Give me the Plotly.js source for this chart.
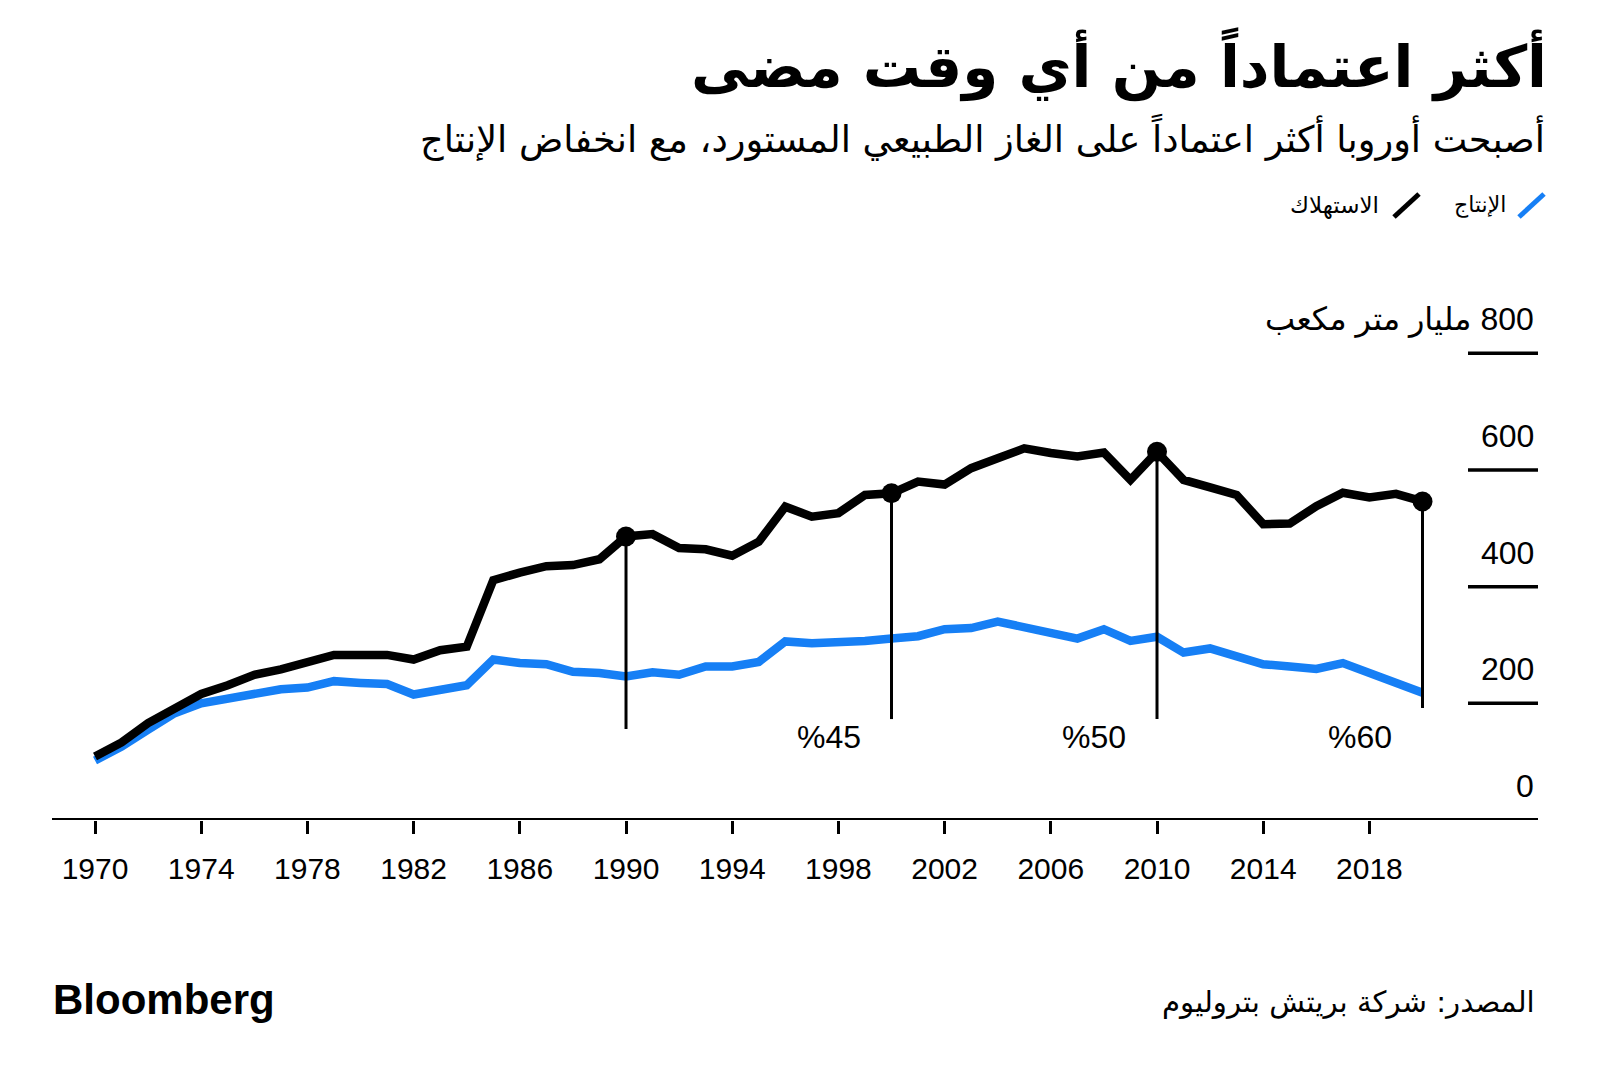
<!DOCTYPE html>
<html>
<head>
<meta charset="utf-8">
<script src="https://cdn.plot.ly/plotly-3.0.1.min.js"></script>
<style>html,body{margin:0;padding:0;background:#fff;}#chart{width:1600px;height:1078px;}</style>
</head>
<body>
<div id="chart"></div>
<script>
// ---- Data (billion cubic metres, Europe) ----
const years = [1970,1971,1972,1973,1974,1975,1976,1977,1978,1979,1980,1981,1982,1983,1984,1985,1986,1987,1988,1989,1990,1991,1992,1993,1994,1995,1996,1997,1998,1999,2000,2001,2002,2003,2004,2005,2006,2007,2008,2009,2010,2011,2012,2013,2014,2015,2016,2017,2018,2019,2020];
const consumption = [109,133,166,191,216,231,249,258,270,283,283,283,275,291,297,411,424,435,437,447,486,490,466,464,453,477,537,520,526,557,560,580,575,603,620,637,629,623,630,583,631,583,570,557,507,508,538,561,553,559,546];
const production = [102,126,155,183,200,207,217,224,227,238,235,233,215,223,231,275,269,267,254,252,246,253,249,263,263,271,306,303,304,307,311,315,327,329,340,331,323,311,327,307,314,287,294,280,267,263,259,269,251,234,218];
const markYears = [1990, 2000, 2010, 2020];
const markLabels = ["", "%45", "%50", "%60"];
const xTickYears = [1970,1974,1978,1982,1986,1990,1994,1998,2002,2006,2010,2014,2018];
const yTickValues = [0, 200, 400, 600, 800];
const yTickLabels = ["0", "200", "400", "600", "\u200F800 مليار متر مكعب"];
const legendNames = ["الإنتاج", "الاستهلاك"];
const titleText = "أكثر اعتماداً من أي وقت مضى";
const subtitleText = "أصبحت أوروبا أكثر اعتماداً على الغاز الطبيعي المستورد، مع انخفاض الإنتاج";
const sourceText = "المصدر: شركة بريتش بتروليوم";

// ---- Styling / layout ----
const BLUE = "#167ff5";
const BLACK = "#000000";
const W = 1600, H = 1078;
const M = {l: 52, r: 62, t: 320, b: 258};
const plotW = W - M.l - M.r, plotH = H - M.t - M.b;
const px = x => (x - M.l) / plotW;          // pixel x -> paper
const py = y => (H - M.b - y) / plotH;      // pixel y -> paper
const stemBottom = [156, 173, 173, 192];    // stem ends (data units)
const NUMFONT = "Liberation Sans, Arial, sans-serif";
const ARFONT = "DejaVu Sans, sans-serif";

const markY = markYears.map(y => consumption[years.indexOf(y)]);

const traces = [
  {x: years, y: production, type: "scatter", mode: "lines", name: legendNames[0],
   line: {color: BLUE, width: 8.5}, hoverinfo: "x+y"},
  {x: years, y: consumption, type: "scatter", mode: "lines", name: legendNames[1],
   line: {color: BLACK, width: 8.5}, hoverinfo: "x+y"},
  {x: markYears, y: markY, type: "scatter", mode: "markers", showlegend: false,
   marker: {color: BLACK, size: 20}, hoverinfo: "x+y"}
];

const shapes = [];
const annotations = [];

// x-axis baseline at zero
shapes.push({type: "line", xref: "paper", yref: "y", x0: 0, x1: 1, y0: 0, y1: 0,
  line: {color: BLACK, width: 4}, layer: "above"});

// stems
markYears.forEach((yr, i) => {
  shapes.push({type: "line", xref: "x", yref: "y", x0: yr, x1: yr, y0: markY[i], y1: stemBottom[i],
    line: {color: BLACK, width: 3}, layer: "above"});
  if (markLabels[i]) {
    annotations.push({xref: "x", yref: "y", x: yr, y: 142, xanchor: "right", yanchor: "middle",
      xshift: -29, text: markLabels[i], showarrow: false,
      font: {family: NUMFONT, size: 32, color: BLACK}});
  }
});

// y grid stubs & labels
yTickValues.forEach((v, i) => {
  if (v > 0) {
    shapes.push({type: "line", xref: "paper", yref: "y", x0: px(1468), x1: 1, y0: v, y1: v,
      line: {color: BLACK, width: 3.5}});
  }
  annotations.push({xref: "paper", yref: "y", x: 1, y: v, xanchor: "right", yanchor: "middle",
    xshift: -2, yshift: 34, text: yTickLabels[i], showarrow: false,
    font: {family: v === 800 ? "Liberation Sans, DejaVu Sans, sans-serif" : NUMFONT, size: 32, color: BLACK}});
});

// legend
shapes.push({type: "line", xref: "paper", yref: "paper", x0: px(1519), x1: px(1544), y0: py(217), y1: py(194),
  line: {color: BLUE, width: 5}});
shapes.push({type: "line", xref: "paper", yref: "paper", x0: px(1394), x1: px(1419), y0: py(217), y1: py(194),
  line: {color: BLACK, width: 5}});
annotations.push({xref: "paper", yref: "paper", x: px(1508), y: py(205), xanchor: "right", yanchor: "middle",
  text: legendNames[0], showarrow: false, font: {family: ARFONT, size: 22, color: BLACK}});
annotations.push({xref: "paper", yref: "paper", x: px(1381), y: py(205), xanchor: "right", yanchor: "middle",
  text: legendNames[1], showarrow: false, font: {family: ARFONT, size: 23, color: BLACK}});

// subtitle
annotations.push({xref: "paper", yref: "paper", x: px(1547), y: py(137), xanchor: "right", yanchor: "middle",
  text: subtitleText, showarrow: false, font: {family: ARFONT, size: 36.7, color: BLACK}});

// footer
annotations.push({xref: "paper", yref: "paper", x: px(51), y: py(999), xanchor: "left", yanchor: "middle",
  text: "<b>Bloomberg</b>", showarrow: false, font: {family: NUMFONT, size: 42, color: BLACK}});
annotations.push({xref: "paper", yref: "paper", x: px(1537), y: py(1002), xanchor: "right", yanchor: "middle",
  text: sourceText, showarrow: false, font: {family: ARFONT, size: 29.2, color: BLACK}});

const layout = {
  width: W, height: H, autosize: false,
  margin: M,
  paper_bgcolor: "#ffffff", plot_bgcolor: "#ffffff",
  showlegend: false,
  title: {text: titleText, xref: "container", yref: "container", x: 1547 / W, xanchor: "right",
    y: 1 - 67 / H, yanchor: "middle",
    font: {family: ARFONT, size: 58, weight: 700, color: BLACK}},
  xaxis: {range: [1968.38, 2024.35], tickvals: xTickYears, ticktext: xTickYears.map(String),
    ticks: "outside", ticklen: 13, tickwidth: 3, tickcolor: BLACK,
    showline: false, showgrid: false, zeroline: false,
    ticklabelstandoff: 9,
    tickfont: {family: NUMFONT, size: 30, color: BLACK}, fixedrange: true},
  yaxis: {range: [0, 857], showticklabels: false, showgrid: false, zeroline: false, showline: false,
    ticks: "", fixedrange: true},
  shapes: shapes,
  annotations: annotations
};

Plotly.newPlot("chart", traces, layout, {displayModeBar: false, staticPlot: true});
</script>
</body>
</html>
